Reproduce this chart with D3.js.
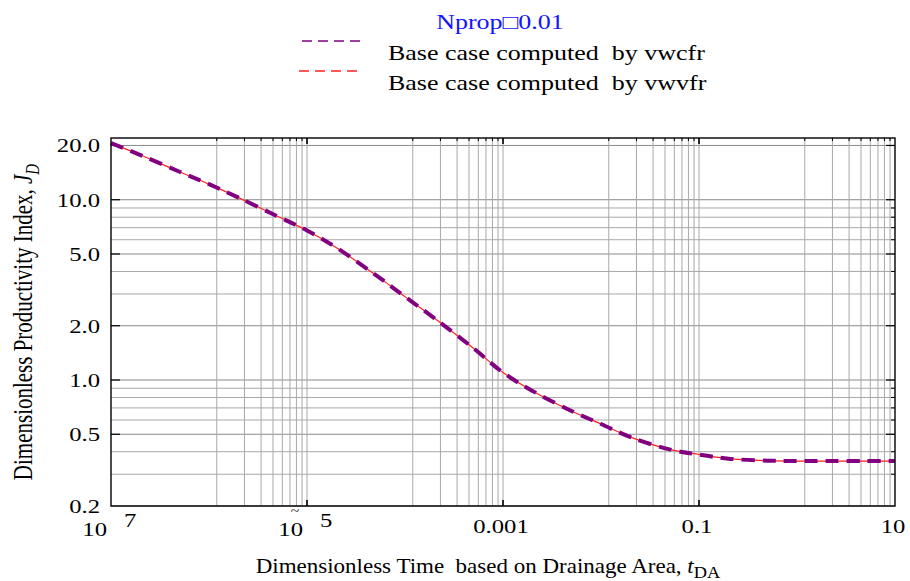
<!DOCTYPE html>
<html>
<head>
<meta charset="utf-8">
<script src="https://cdn.jsdelivr.net/npm/d3@7"></script>
<style>
  body { margin: 0; background: #fff; }
  svg { display: block; }
  text { font-family: "Liberation Serif", "Times New Roman", serif; fill: #000; }
</style>
</head>
<body>
<script>
// dimensionless time and productivity index
const TIME = [1e-7, 2e-7, 5e-7, 1e-6, 2e-6, 5e-6, 1e-5, 2e-5, 5e-5, 1e-4, 2e-4, 5e-4,
              1e-3, 2e-3, 5e-3, 1e-2, 2e-2, 5e-2, 0.1, 0.2, 0.5, 1, 2, 5, 10];
const JD_VWCFR = [20.6, 17.7, 14.3, 12.2, 10.27, 8.09, 6.75, 5.42, 3.83, 2.9, 2.2, 1.5,
                  1.1, 0.87, 0.673, 0.57, 0.482, 0.412, 0.386, 0.366, 0.357, 0.355, 0.355, 0.355, 0.355];
const JD_VWVFR = [20.6, 17.7, 14.3, 12.2, 10.27, 8.09, 6.75, 5.42, 3.83, 2.9, 2.2, 1.5,
                  1.1, 0.87, 0.673, 0.57, 0.482, 0.412, 0.386, 0.366, 0.357, 0.355, 0.355, 0.355, 0.355];

const SERIES_NAMES = ["Base case computed  by vwcfr", "Base case computed  by vwvfr"];
const TITLE = "Nprop\u25A10.01";

const Y_TICKS = [0.2, 0.5, 1, 2, 5, 10, 20];
const Y_TICK_LABELS = ["0.2", "0.5", "1.0", "2.0", "5.0", "10.0", "20.0"];

const X_MAJOR = [1e-7, 1e-5, 1e-3, 0.1, 10];
const X_TICK_BASE = ["10", "10", "0.001", "0.1", "10"];
const X_TICK_EXP = ["7", "5", "", "", ""];
const X_TICK_MARK = ["", "~", "", "", ""];
// minor grid only in every other decade, at these odd steps
const X_MINOR_DECADES = [1e-6, 1e-4, 1e-2, 1];
const X_MINOR_STEPS = [1.2, 2.3, 3.4, 4.5, 5.6, 6.7, 7.8, 8.9];

const W = 910, H = 581;
const SX = 1.3; // the whole figure is stretched sideways, text too

const svg = d3.select("body").append("svg")
  .attr("width", W)
  .attr("height", H)
  .attr("font-family", "Liberation Serif, Times New Roman, serif");

const x = d3.scaleLog().domain([1e-7, 10]).range([111, 895]);
const y = d3.scaleLog().domain([0.2, 22]).range([506, 138]);

function stext(px, py, str, size, anchor, sx) {
  return svg.append("text")
    .attr("transform", `translate(${px},${py}) scale(${sx || SX},1)`)
    .attr("font-size", size)
    .attr("text-anchor", anchor || "start")
    .text(str);
}

// grid
const grid = svg.append("g");
const yGrid = y.ticks().filter(v => v <= 20.001);
const isMajorY = v => Y_TICKS.some(t => Math.abs(t - v) < 1e-9);
grid.selectAll(".hg").data(yGrid).join("line")
  .attr("x1", x.range()[0]).attr("x2", x.range()[1])
  .attr("y1", d => y(d)).attr("y2", d => y(d))
  .attr("stroke", d => isMajorY(d) ? "#8a8a8a" : "#a8a8a8")
  .attr("stroke-width", 1);

const xMinor = [];
X_MINOR_DECADES.forEach(dec => X_MINOR_STEPS.forEach(s => xMinor.push(dec * s)));
grid.selectAll(".vg").data(xMinor.concat(X_MAJOR.slice(1, -1))).join("line")
  .attr("x1", d => x(d)).attr("x2", d => x(d))
  .attr("y1", y.range()[0]).attr("y2", y.range()[1])
  .attr("stroke", "#a8a8a8")
  .attr("stroke-width", 1);

// ticks
const ticks = svg.append("g").attr("stroke", "#000");
ticks.selectAll(".ly").data(Y_TICKS.slice(1)).join("line")
  .attr("x1", 111).attr("x2", 120)
  .attr("y1", d => y(d)).attr("y2", d => y(d)).attr("stroke-width", 1.2);
ticks.selectAll(".ry").data(Y_TICKS.slice(1)).join("line")
  .attr("x1", 886).attr("x2", 895)
  .attr("y1", d => y(d)).attr("y2", d => y(d)).attr("stroke-width", 1.2);
ticks.selectAll(".rym").data(yGrid.filter(v => !isMajorY(v))).join("line")
  .attr("x1", 891).attr("x2", 895)
  .attr("y1", d => y(d)).attr("y2", d => y(d)).attr("stroke-width", 1);
ticks.selectAll(".bx").data(X_MAJOR.slice(1, -1)).join("line")
  .attr("x1", d => x(d)).attr("x2", d => x(d))
  .attr("y1", 506).attr("y2", 500).attr("stroke-width", 1.6);
ticks.selectAll(".tx").data(X_MAJOR.slice(1, -1)).join("line")
  .attr("x1", d => x(d)).attr("x2", d => x(d))
  .attr("y1", 138).attr("y2", 144).attr("stroke-width", 1.6);
ticks.selectAll(".txm").data(xMinor).join("line")
  .attr("x1", d => x(d)).attr("x2", d => x(d))
  .attr("y1", 138).attr("y2", 141).attr("stroke-width", 1);

// curves
const line = d3.line()
  .x(d => x(d[0]))
  .y(d => y(d[1]))
  .curve(d3.curveCatmullRom.alpha(0.5));

svg.append("path")
  .datum(TIME.map((t, i) => [t, JD_VWVFR[i]]))
  .attr("d", line)
  .attr("fill", "none")
  .attr("stroke", "#ff2020")
  .attr("stroke-width", 1.2);

svg.append("path")
  .datum(TIME.map((t, i) => [t, JD_VWCFR[i]]))
  .attr("d", line)
  .attr("fill", "none")
  .attr("stroke", "#800080")
  .attr("stroke-width", 4)
  .attr("stroke-dasharray", "13,8");

// frame
svg.append("rect")
  .attr("x", 111).attr("y", 138)
  .attr("width", 895 - 111).attr("height", 506 - 138)
  .attr("fill", "none").attr("stroke", "#000").attr("stroke-width", 1.4);

// y tick labels
Y_TICKS.forEach((v, i) => stext(100, y(v) + 7, Y_TICK_LABELS[i], 19, "end"));

// x tick labels
X_MAJOR.forEach((v, i) => {
  const px = x(v);
  if (X_TICK_EXP[i]) {
    stext(px - 4, 536, X_TICK_BASE[i], 19, "end");
    stext(px + 13, 527, X_TICK_EXP[i], 19, "start");
    if (X_TICK_MARK[i]) stext(px - 12, 515, X_TICK_MARK[i], 12, "middle");
  } else {
    stext(px - 2, 533, X_TICK_BASE[i], 19, "middle");
  }
});

// axis titles
const xl = stext(488, 573, "Dimensionless Time  based on Drainage Area, ", 20, "middle", 1.15)
  .attr("xml:space", "preserve");
xl.append("tspan").attr("font-style", "italic").text("t");
xl.append("tspan").attr("font-size", 16).attr("dy", 5).text("DA");

const yl = svg.append("text")
  .attr("transform", `translate(32,322) scale(${SX},1) rotate(-90)`)
  .attr("font-size", 21)
  .attr("text-anchor", "middle")
  .text("Dimensionless Productivity Index, ");
yl.append("tspan").attr("font-style", "italic").text("J");
yl.append("tspan").attr("font-style", "italic").attr("font-size", 15).attr("dy", 5).text("D");

// legend
stext(500, 29, TITLE, 20, "middle").style("fill", "#1414ff");
const legendColors = ["#800080", "#ff2020"];
const legendRows = [
  { lx: 302, ly: 41, ty: 60 },
  { lx: 299, ly: 71, ty: 90 }
];
SERIES_NAMES.forEach((name, i) => {
  const r = legendRows[i];
  svg.append("line")
    .attr("x1", r.lx).attr("x2", r.lx + 58)
    .attr("y1", r.ly).attr("y2", r.ly)
    .attr("stroke", legendColors[i])
    .attr("stroke-width", 1.6)
    .attr("stroke-dasharray", "10,6");
  stext(388, r.ty, name, 20, "start").attr("xml:space", "preserve");
});
</script>
</body>
</html>
